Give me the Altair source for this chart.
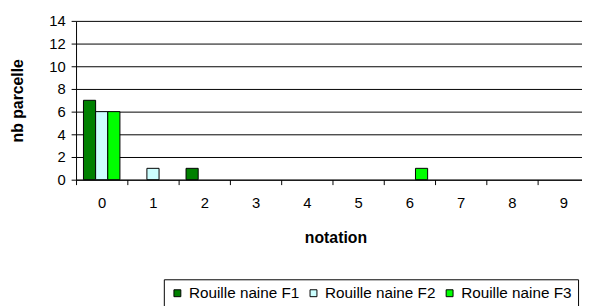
import altair as alt
import pandas as pd

categories = ["0", "1", "2", "3", "4", "5", "6", "7", "8", "9"]
series_names = ["Rouille naine F1", "Rouille naine F2", "Rouille naine F3"]
f1 = [7, 0, 1, 0, 0, 0, 0, 0, 0, 0]
f2 = [6, 1, 0, 0, 0, 0, 0, 0, 0, 0]
f3 = [6, 0, 0, 0, 0, 0, 1, 0, 0, 0]
colors = ["#008000", "#CCFFFF", "#00FF00"]

rows = []
for name, vals in zip(series_names, [f1, f2, f3]):
    for c, v in zip(categories, vals):
        rows.append({"notation": c, "serie": name, "nb": v})
df = pd.DataFrame(rows)

FONT = "Liberation Sans"

chart = (
    alt.Chart(df)
    .transform_filter("datum.nb > 0")
    .mark_bar(stroke="black", strokeWidth=1)
    .encode(
        x=alt.X(
            "notation:N",
            sort=categories,
            scale=alt.Scale(domain=categories, range=[0, 520], paddingInner=0, paddingOuter=0),
            axis=alt.Axis(
                title="notation",
                labelAngle=0,
                tickBand="extent",
                tickSize=5,
                labelPadding=11,
                titleX=263,
                titleY=58.5,
                titleBaseline="middle",
                titleAlign="center",
            ),
        ),
        xOffset=alt.XOffset(
            "serie:N",
            sort=series_names,
            scale=alt.Scale(domain=series_names, paddingInner=0, paddingOuter=0.61),
        ),
        y=alt.Y(
            "nb:Q",
            scale=alt.Scale(domain=[0, 14], nice=False),
            axis=alt.Axis(
                title="nb parcelle",
                values=[0, 2, 4, 6, 8, 10, 12, 14],
                grid=True,
                tickSize=5,
                labelPadding=6,
                titleX=-59,
                titleY=80.5,
                titleBaseline="middle",
                titleAlign="center",
                titleAngle=270,
            ),
        ),
        color=alt.Color(
            "serie:N",
            sort=series_names,
            scale=alt.Scale(domain=series_names, range=colors),
            legend=alt.Legend(
                title=None,
                orient="none",
                legendX=89,
                legendY=262,
                direction="horizontal",
                symbolType="square",
                symbolSize=49,
                symbolStrokeColor="black",
                symbolStrokeWidth=1,
                labelOffset=4,
                columnPadding=6,
                padding=6,
                strokeColor="black",
                fillColor="white",
            ),
        ),
    )
    .properties(
        width=513,
        height=161,
        autosize=alt.AutoSizeParams(type="none"),
        padding={"left": 69, "top": 11, "right": 0, "bottom": 126},
    )
    .configure_view(stroke=None)
    .configure_axis(
        domainColor="black",
        tickColor="black",
        gridColor="black",
        gridWidth=1,
        domainWidth=1,
        labelFont=FONT,
        labelFontSize=15,
        labelColor="black",
        titleFont=FONT,
        titleFontSize=16,
        titleFontWeight="bold",
        titleColor="black",
    )
    .configure_legend(
        labelFont=FONT,
        labelFontSize=15.5,
        labelColor="black",
        symbolOpacity=1,
    )
)

chart.save("out.html", embed_options={"renderer": "svg", "actions": False})
